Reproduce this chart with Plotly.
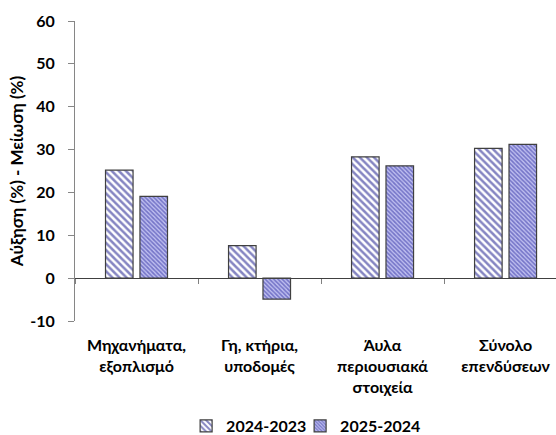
import plotly.graph_objects as go

categories = ["Μηχανήματα,<br>εξοπλισμό", "Γη, κτήρια,<br>υποδομές",
              "Άυλα<br>περιουσιακά<br>στοιχεία", "Σύνολο<br>επενδύσεων"]
series_names = ["2024-2023", "2025-2024"]
values_2024_2023 = [25.2, 7.6, 28.3, 30.3]
values_2025_2024 = [19.1, -4.9, 26.2, 31.2]
y_ticks = [-10, 0, 10, 20, 30, 40, 50, 60]
y_tick_labels = ["-10", "0", "10", "20", "30", "40", "50", "60"]

FONT = "Lato"
FS = 16
NAVY = "#0c0c85"

fig = go.Figure()
fig.add_trace(go.Bar(
    name=series_names[0], x=categories, y=values_2024_2023, legend="legend",
    marker=dict(color="white", line=dict(color="#404040", width=1.2),
                pattern=dict(shape="\\", fgcolor=NAVY, bgcolor="white",
                             size=5, solidity=0.5)),
))
fig.add_trace(go.Bar(
    name=series_names[1], x=categories, y=values_2025_2024, legend="legend2",
    marker=dict(color="white", line=dict(color="#404040", width=1.2),
                pattern=dict(shape="\\", fgcolor="#2a2aa0", bgcolor="#c0c0f0",
                             size=3, solidity=0.55)),
))
# invisible helper trace for the category ticks on the zero line
fig.add_trace(go.Scatter(
    x=categories, y=values_2024_2023, xaxis="x2", mode="markers",
    marker=dict(opacity=0), showlegend=False, hoverinfo="skip",
))

xr = [-0.5, 3.41]
ymin, ymax = -10, 60
legend_font = dict(family=FONT, size=FS, weight="bold")
fig.update_layout(
    width=556, height=435,
    margin=dict(l=75, r=0, t=21, b=114, autoexpand=False),
    paper_bgcolor="white", plot_bgcolor="white",
    font=dict(family=FONT, size=FS, color="black"),
    barmode="group", bargap=0.44, bargroupgap=0.2,
    showlegend=True,
    legend=dict(orientation="h", x=0.231, xanchor="left", y=-0.35, yanchor="middle",
                font=legend_font, itemwidth=30, bgcolor="rgba(0,0,0,0)"),
    legend2=dict(orientation="h", x=0.468, xanchor="left", y=-0.35, yanchor="middle",
                 font=legend_font, itemwidth=30, bgcolor="rgba(0,0,0,0)"),
    xaxis=dict(type="category", range=xr, showline=False, ticks="",
               showgrid=False, zeroline=False, automargin=False,
               tickfont=dict(family=FONT, size=16, weight="bold"),
               ticklabelstandoff=13),
    xaxis2=dict(type="category", range=xr, overlaying="x", anchor="free",
                position=(0 - ymin) / (ymax - ymin), side="bottom",
                showline=True, linecolor="#404040", linewidth=1,
                tickson="boundaries", ticks="outside", ticklen=5,
                tickcolor="#808080", showticklabels=False, showgrid=False,
                zeroline=False, automargin=False),
    yaxis=dict(range=[ymin, ymax], tickvals=y_ticks, ticktext=y_tick_labels,
               showline=True, automargin=False,
               linecolor="#868686", linewidth=1, ticks="outside", ticklen=6,
               tickcolor="#868686", showgrid=False, zeroline=False,
               tickfont=dict(family=FONT, size=FS, weight="bold"),
               ticklabelstandoff=10,
               title=dict(text="Αύξηση (%) - Μείωση (%)", standoff=2,
                          font=dict(family=FONT, size=17, weight="bold"))),
)

fig.write_html("out.html", config={"displayModeBar": False},
               post_script="document.body.style.margin='0';document.body.style.overflow='hidden';")
